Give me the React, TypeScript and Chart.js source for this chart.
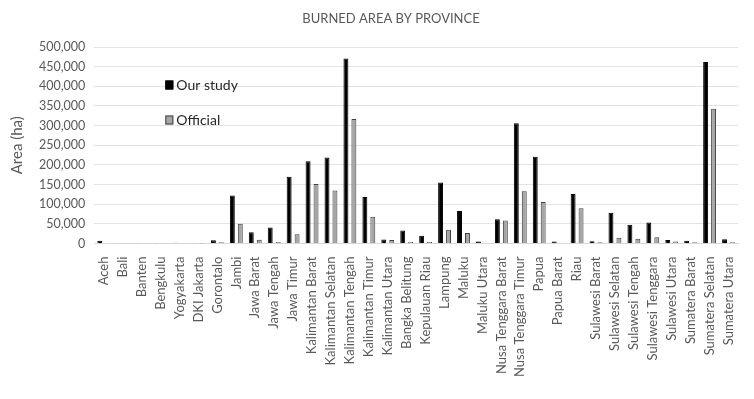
import React, { useEffect, useRef } from "react";
import { Chart, registerables } from "chart.js";

Chart.register(...registerables);

const provinces = [
  "Aceh", "Bali", "Banten", "Bengkulu", "Yogyakarta", "DKI Jakarta", "Gorontalo", "Jambi",
  "Jawa Barat", "Jawa Tengah", "Jawa Timur", "Kalimantan Barat", "Kalimantan Selatan",
  "Kalimantan Tengah", "Kalimantan Timur", "Kalimantan Utara", "Bangka Belitung",
  "Kepulauan Riau", "Lampung", "Maluku", "Maluku Utara", "Nusa Tenggara Barat",
  "Nusa Tenggara Timur", "Papua", "Papua Barat", "Riau", "Sulawesi Barat", "Sulawesi Selatan",
  "Sulawesi Tengah", "Sulawesi Tenggara", "Sulawesi Utara", "Sumatera Barat",
  "Sumatera Selatan", "Sumatera Utara",
];

const ourStudy = [
  7000, 600, 600, 600, 2000, 400, 8000, 122000,
  28700, 40600, 170000, 209000, 219000,
  471000, 118500, 10000, 33000,
  19500, 155000, 83000, 5000, 61700,
  306000, 221000, 5000, 126000, 6000, 78000,
  47500, 53300, 9000, 7000,
  462000, 11000,
];

const official = [
  1000, 400, 400, 400, 500, 300, 3000, 50000,
  9400, 4000, 23600, 151500, 135000,
  316500, 67800, 9000, 4000,
  4000, 34800, 27000, 2000, 58400,
  132700, 105800, 1000, 89600, 3000, 14500,
  12000, 16000, 5000, 3000,
  342600, 3000,
];

const yTicks = [0, 50000, 100000, 150000, 200000, 250000, 300000, 350000, 400000, 450000, 500000];

const titleText = "BURNED AREA BY PROVINCE";

const FONT = "Lato, 'Open Sans', sans-serif";
const TEXT = "#595959";

const overlayPlugin = {
  id: "overlay",
  afterDraw(chart: any) {
    const { ctx, chartArea } = chart;
    ctx.save();
    // title
    ctx.font = `13px ${FONT}`;
    ctx.fillStyle = TEXT;
    ctx.textAlign = "center";
    ctx.textBaseline = "middle";
    ctx.fillText(titleText, 391, 19);
    // legend
    const items = [
      { label: "Our study", fill: "#000000", stroke: "#000000" },
      { label: "Official", fill: "#a6a6a6", stroke: "#404040" },
    ];
    ctx.font = `14px ${FONT}`;
    ctx.textAlign = "left";
    items.forEach((it, i) => {
      const x = chartArea.left + 71;
      const y = chartArea.top + 38 + i * 35;
      ctx.fillStyle = it.fill;
      ctx.fillRect(x, y - 4.5, 8, 9);
      ctx.strokeStyle = it.stroke;
      ctx.lineWidth = 1;
      ctx.strokeRect(x + 0.5, y - 4, 7, 8);
      ctx.fillStyle = "#262626";
      ctx.fillText(it.label, x + 11, y);
    });
    ctx.restore();
  },
};

export default function App() {
  const ref = useRef<HTMLCanvasElement>(null);

  useEffect(() => {
    if (!ref.current) return;
    const chart = new Chart(ref.current, {
      type: "bar",
      data: {
        labels: provinces,
        datasets: [
          {
            label: "Our study",
            data: ourStudy,
            backgroundColor: "#000000",
            borderColor: "#000000",
            borderWidth: 1,
            barPercentage: 0.62,
            categoryPercentage: 0.84,
          },
          {
            label: "Official",
            data: official,
            backgroundColor: "#a6a6a6",
            borderColor: "#404040",
            borderWidth: 1,
            barPercentage: 0.62,
            categoryPercentage: 0.84,
          },
        ],
      },
      options: {
        animation: false,
        responsive: false,
        maintainAspectRatio: false,
        layout: { padding: { left: 4, right: 16, top: 47, bottom: 17 } },
        plugins: {
          legend: { display: false },
          tooltip: { enabled: false },
          title: { display: false },
        },
        scales: {
          x: {
            grid: { display: false },
            border: { display: true, color: "#d9d9d9" },
            ticks: {
              color: TEXT,
              font: { family: FONT, size: 13 },
              minRotation: 90,
              maxRotation: 90,
              autoSkip: false,
              padding: 5,
            },
          },
          y: {
            min: 0,
            max: 500000,
            afterBuildTicks: (axis: any) => {
              axis.ticks = yTicks.map((v) => ({ value: v }));
            },
            grid: { color: "#e3e3e3", drawTicks: false },
            border: { display: false },
            ticks: {
              color: TEXT,
              font: { family: FONT, size: 12.5 },
              padding: 9,
              callback: (v: any) => Number(v).toLocaleString("en-US"),
            },
            title: {
              display: true,
              text: "Area (ha)",
              color: TEXT,
              font: { family: FONT, size: 15 },
              padding: { bottom: 4 },
            },
          },
        },
      },
      plugins: [overlayPlugin],
    });
    return () => chart.destroy();
  }, []);

  return (
    <div style={{ position: "fixed", left: 0, top: 0, width: 754, height: 399, background: "#fff" }}>
      <canvas ref={ref} width={754} height={399} style={{ width: 754, height: 399 }} />
    </div>
  );
}
